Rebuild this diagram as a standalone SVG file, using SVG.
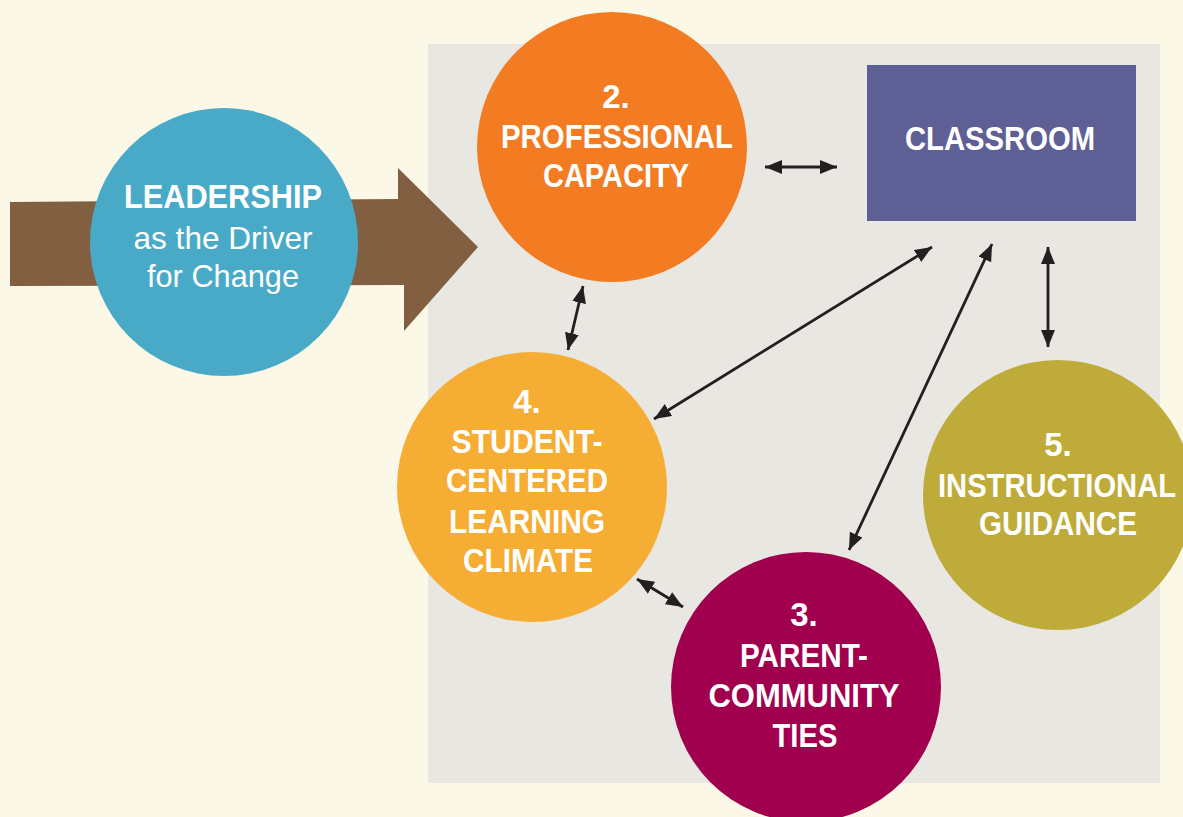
<svg xmlns="http://www.w3.org/2000/svg" width="1183" height="817" viewBox="0 0 1183 817">
<style>
.t{font-family:"Liberation Sans",Arial,sans-serif;font-weight:bold;font-size:33px;fill:#fff;text-anchor:middle}
.r{font-family:"Liberation Sans",Arial,sans-serif;font-weight:normal;font-size:32px;fill:#fff;text-anchor:middle}
.c{stroke:#231f20;stroke-width:2.8;fill:none;marker-start:url(#ah);marker-end:url(#ah)}
</style>
<defs>
<marker id="ah" markerUnits="userSpaceOnUse" markerWidth="18" markerHeight="15" refX="17" refY="7" orient="auto-start-reverse" viewBox="0 0 18 15">
<path d="M0,0 L17,7 L0,14 Z" fill="#231f20"/>
</marker>
</defs>
<rect width="1183" height="817" fill="#fcf8e7"/>
<rect x="428" y="44" width="732" height="739" fill="#e8e7e2"/>
<g id="driver-arrow">
<polygon points="10,202 398,199 398,168 478,247 404,331 404,285 10,286" fill="#835f42"/>
</g>
<g id="leadership">
<circle cx="224" cy="242" r="134" fill="#49aac8"/>
<text class="t" x="223" y="208" textLength="198" lengthAdjust="spacingAndGlyphs">LEADERSHIP</text>
<text class="r" x="223" y="249" textLength="179" lengthAdjust="spacingAndGlyphs">as the Driver</text>
<text class="r" x="223" y="287" textLength="152" lengthAdjust="spacingAndGlyphs">for Change</text>
</g>
<g id="professional-capacity">
<circle cx="612" cy="147" r="135" fill="#f37b22"/>
<text class="t" x="616" y="108">2.</text>
<text class="t" x="617" y="148" textLength="232" lengthAdjust="spacingAndGlyphs">PROFESSIONAL</text>
<text class="t" x="616" y="187" textLength="146" lengthAdjust="spacingAndGlyphs">CAPACITY</text>
</g>
<g id="classroom">
<rect x="867" y="65" width="269" height="156" fill="#5e5f95"/>
<text class="t" x="1000" y="150" textLength="190" lengthAdjust="spacingAndGlyphs">CLASSROOM</text>
</g>
<g id="student-centered">
<circle cx="532" cy="487" r="135" fill="#f6ad33"/>
<text class="t" x="527" y="413">4.</text>
<text class="t" x="527" y="453" textLength="151" lengthAdjust="spacingAndGlyphs">STUDENT-</text>
<text class="t" x="527" y="492" textLength="162" lengthAdjust="spacingAndGlyphs">CENTERED</text>
<text class="t" x="527" y="533" textLength="156" lengthAdjust="spacingAndGlyphs">LEARNING</text>
<text class="t" x="528" y="572" textLength="130" lengthAdjust="spacingAndGlyphs">CLIMATE</text>
</g>
<g id="parent-community">
<circle cx="806" cy="687" r="135" fill="#a0004e"/>
<text class="t" x="804" y="626">3.</text>
<text class="t" x="804" y="667" textLength="128" lengthAdjust="spacingAndGlyphs">PARENT-</text>
<text class="t" x="804" y="707" textLength="191" lengthAdjust="spacingAndGlyphs">COMMUNITY</text>
<text class="t" x="805" y="747" textLength="65" lengthAdjust="spacingAndGlyphs">TIES</text>
</g>
<g id="instructional-guidance">
<circle cx="1058" cy="495" r="135" fill="#bfab3a"/>
<text class="t" x="1058" y="456">5.</text>
<text class="t" x="1057" y="497" textLength="238" lengthAdjust="spacingAndGlyphs">INSTRUCTIONAL</text>
<text class="t" x="1058" y="535" textLength="158" lengthAdjust="spacingAndGlyphs">GUIDANCE</text>
</g>
<g id="connectors">
<line class="c" x1="765" y1="167" x2="837" y2="167"/>
<line class="c" x1="583" y1="286" x2="568" y2="350"/>
<line class="c" x1="932" y1="247" x2="654" y2="419"/>
<line class="c" x1="992" y1="244" x2="849" y2="550"/>
<line class="c" x1="1048" y1="247" x2="1048" y2="347"/>
<line class="c" x1="637" y1="579" x2="683" y2="607"/>
</g>
</svg>
